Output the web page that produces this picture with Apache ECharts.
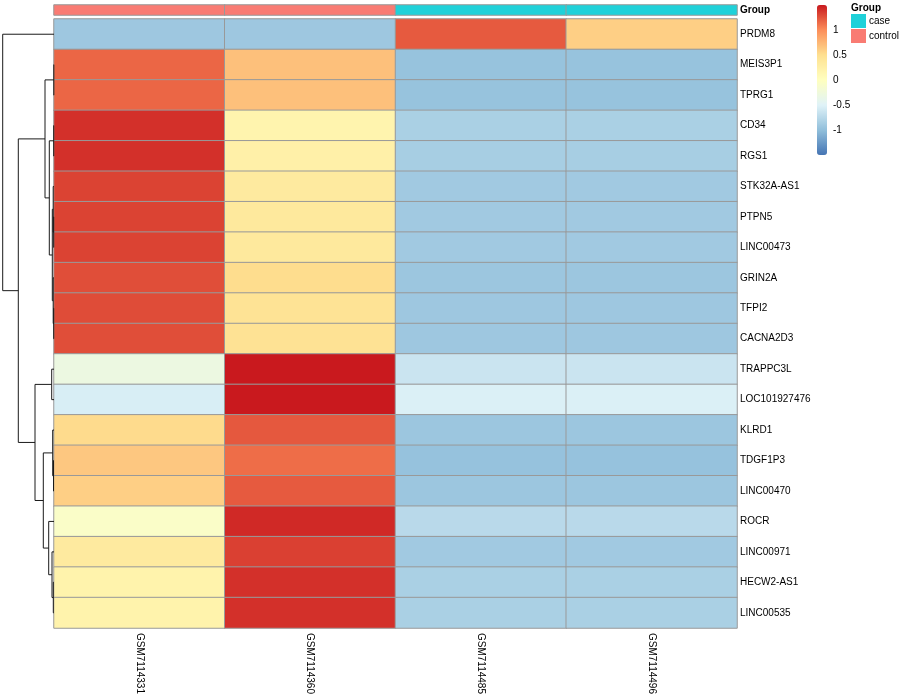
<!DOCTYPE html>
<html>
<head>
<meta charset="utf-8">
<script src="https://cdn.jsdelivr.net/npm/echarts@6/dist/echarts.min.js"></script>
<style>html,body{margin:0;padding:0;background:#fff}#chart{width:900px;height:700px}</style>
</head>
<body>
<div id="chart"></div>
<script>
// ---- data ----
const genes = ['PRDM8','MEIS3P1','TPRG1','CD34','RGS1','STK32A-AS1','PTPN5','LINC00473','GRIN2A','TFPI2','CACNA2D3','TRAPPC3L','LOC101927476','KLRD1','TDGF1P3','LINC00470','ROCR','LINC00971','HECW2-AS1','LINC00535'];
const samples = ['GSM7114331','GSM7114360','GSM7114485','GSM7114496'];
const sampleGroups = ['control','control','case','case'];
const groupLevels = ['case','control'];

// row-scaled expression (z-score), one array per sample, in gene order
const zGSM7114331 = [-0.92, 1.17, 1.17, 1.40, 1.40, 1.32, 1.32, 1.32, 1.27, 1.28, 1.27, -0.30, -0.55, 0.53, 0.65, 0.60, -0.08, 0.34, 0.20, 0.20];
const zGSM7114360 = [-0.92, 0.69, 0.69, 0.18, 0.24, 0.34, 0.36, 0.36, 0.52, 0.45, 0.46, 1.50, 1.50, 1.23, 1.14, 1.22, 1.43, 1.33, 1.40, 1.40];
const zGSM7114485 = [1.22, -0.96, -0.96, -0.84, -0.86, -0.90, -0.90, -0.90, -0.93, -0.92, -0.92, -0.64, -0.53, -0.93, -0.97, -0.93, -0.75, -0.90, -0.84, -0.84];
const zGSM7114496 = [0.60, -0.96, -0.96, -0.84, -0.86, -0.90, -0.90, -0.90, -0.93, -0.92, -0.92, -0.64, -0.53, -0.93, -0.97, -0.93, -0.75, -0.90, -0.84, -0.84];

// row dendrogram (hclust-style merges: negative = leaf row number, positive = earlier merge)
const mergeLeft   = [-2, -4, -7, -10, -15, -19, -6, -9, -14, 7, -18, -12, 2, -17, 1, 9, 12, 15, -1];
const mergeRight  = [-3, -5, -8, -11, -16, -20, 3, 4, 5, 8, 6, -13, 10, 11, 13, 14, 16, 17, 18];
const mergeHeight = [0.2, 0.3, 0.3, 0.3, 0.5, 0.7, 0.8, 0.8, 1.3, 1.7, 2.0, 2.3, 4.7, 5.3, 9.0, 10.7, 19.0, 35.7, 51.3];

// colour scale
const legendTicks = [-1, -0.5, 0, 0.5, 1];
const palette = ['#4575B4','#91BFDB','#E0F3F8','#FFFFBF','#FEE090','#FC8D59','#C9191E'];
const groupColors = {case: '#1FD1D9', control: '#F97B73'};

// ---- build ----
const zBySample = [zGSM7114331, zGSM7114360, zGSM7114485, zGSM7114496];
const heatData = [];
zBySample.forEach((arr, j) => arr.forEach((v, i) => heatData.push([j, i, v])));
const groupData = sampleGroups.map((g, j) => [j, 0, g === 'case' ? 1 : 0]);

function dendroSegments() {
  const pos = [];
  const child = c => c < 0 ? {y: -c - 1, h: 0} : pos[c - 1];
  const out = [];
  for (let k = 0; k < mergeHeight.length; k++) {
    const a = child(mergeLeft[k]), b = child(mergeRight[k]), h = mergeHeight[k];
    pos.push({y: (a.y + b.y) / 2, h: h});
    out.push([h, a.y, b.y, a.h, b.h]);
  }
  return out;
}

const FONT = "'Liberation Sans', Arial, Helvetica, sans-serif";
const chart = echarts.init(document.getElementById('chart'));
chart.setOption({
  animation: false,
  backgroundColor: '#fff',
  textStyle: {fontFamily: FONT},
  title: {text: 'Group', left: 851, top: 3, padding: 0,
    textStyle: {fontSize: 10, fontWeight: 'bold', color: '#000', fontFamily: FONT}},
  grid: [
    {left: 54, top: 19, width: 683, height: 609},
    {left: 54, top: 5, width: 683, height: 10},
    {left: 0, top: 19, width: 54, height: 609},
    {left: 817, top: 5, width: 10, height: 150}
  ],
  xAxis: [
    {gridIndex: 0, type: 'category', data: samples, position: 'bottom',
      axisLine: {show: false}, axisTick: {show: false}, splitLine: {show: false},
      axisLabel: {rotate: -90, margin: 5, fontSize: 10, color: '#000', fontFamily: FONT}},
    {gridIndex: 1, type: 'category', data: samples, show: false},
    {gridIndex: 2, type: 'value', min: 0, max: 54, inverse: true, show: false},
    {gridIndex: 3, type: 'value', min: 0, max: 1, show: false}
  ],
  yAxis: [
    {gridIndex: 0, type: 'category', data: genes, inverse: true, position: 'right',
      axisLine: {show: false}, axisTick: {show: false}, splitLine: {show: false},
      axisLabel: {margin: 3, fontSize: 10, color: '#000', fontFamily: FONT}},
    {gridIndex: 1, type: 'category', data: ['Group'], position: 'right',
      axisLine: {show: false}, axisTick: {show: false},
      axisLabel: {margin: 3, fontSize: 10, fontWeight: 'bold', color: '#000', fontFamily: FONT}},
    {gridIndex: 2, type: 'value', min: -0.5, max: genes.length - 0.5, inverse: true, show: false},
    {gridIndex: 3, type: 'value', min: -1.5, max: 1.5, interval: 0.5, position: 'right',
      axisLine: {show: false}, axisTick: {show: false}, splitLine: {show: false},
      axisLabel: {margin: 6, fontSize: 10, color: '#000', fontFamily: FONT,
        formatter: v => legendTicks.some(t => Math.abs(t - v) < 1e-9) ? String(v) : ''}}
  ],
  visualMap: [
    {type: 'continuous', seriesIndex: 0, min: -1.5, max: 1.5, left: 817, top: 5,
      itemWidth: 10, itemHeight: 150, padding: 0, calculable: false, hoverLink: false,
      text: null, inRange: {color: palette}},
    {type: 'piecewise', seriesIndex: 1, orient: 'vertical', left: 851, top: 14, align: 'left',
      itemWidth: 15, itemHeight: 14, itemGap: 1, textGap: 3, padding: 0,
      itemSymbol: 'rect', selectedMode: false, hoverLink: false,
      textStyle: {fontSize: 10, color: '#000', fontFamily: FONT},
      pieces: groupLevels.map(g => ({value: g === 'case' ? 1 : 0, label: g, color: groupColors[g]}))}
  ],
  series: [
    {type: 'heatmap', xAxisIndex: 0, yAxisIndex: 0, data: heatData,
      itemStyle: {borderColor: '#999', borderWidth: 1}, emphasis: {disabled: true}},
    {type: 'heatmap', xAxisIndex: 1, yAxisIndex: 1, data: groupData,
      itemStyle: {borderColor: '#999', borderWidth: 1}, emphasis: {disabled: true}},
    {type: 'custom', xAxisIndex: 2, yAxisIndex: 2, data: dendroSegments(),
      encode: {x: [0, 3, 4], y: [1, 2]}, silent: true,
      renderItem: function (params, api) {
        const h = api.value(0), y1 = api.value(1), y2 = api.value(2), h1 = api.value(3), h2 = api.value(4);
        const pts = [api.coord([h1, y1]), api.coord([h, y1]), api.coord([h, y2]), api.coord([h2, y2])];
        return {type: 'polyline', shape: {points: pts}, style: {stroke: '#1a1a1a', lineWidth: 1, fill: null}};
      }},
    {type: 'scatter', xAxisIndex: 3, yAxisIndex: 3, data: [], silent: true}
  ]
});
</script>
</body>
</html>
